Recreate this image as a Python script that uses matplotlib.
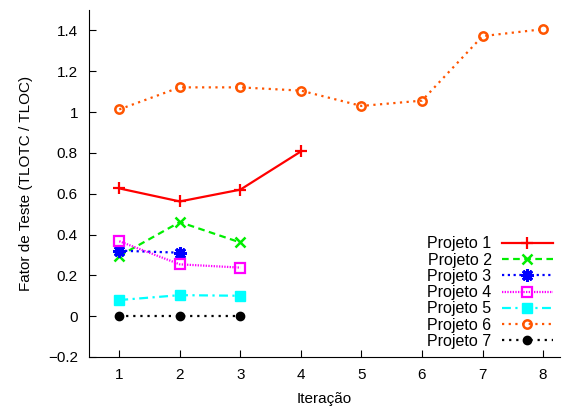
import matplotlib
matplotlib.use("Agg")
import matplotlib.pyplot as plt

plt.rcParams['font.family'] = ['Liberation Sans', 'DejaVu Sans']

iter_p1 = [1, 2, 3, 4]
p1 = [0.626, 0.562, 0.620, 0.807]
iter_p2 = [1, 2, 3]
p2 = [0.295, 0.461, 0.361]
iter_p3 = [1, 2]
p3 = [0.321, 0.311]
iter_p4 = [1, 2, 3]
p4 = [0.367, 0.254, 0.238]
iter_p5 = [1, 2, 3]
p5 = [0.079, 0.103, 0.100]
iter_p6 = [1, 2, 3, 4, 5, 6, 7, 8]
p6 = [1.013, 1.121, 1.121, 1.105, 1.030, 1.056, 1.372, 1.406]
iter_p7 = [1, 2, 3]
p7 = [0.0, 0.0, 0.0]

labels = ["Projeto 1", "Projeto 2", "Projeto 3", "Projeto 4",
          "Projeto 5", "Projeto 6", "Projeto 7"]
xticks = [1, 2, 3, 4, 5, 6, 7, 8]
yticks = [-0.2, 0, 0.2, 0.4, 0.6, 0.8, 1, 1.2, 1.4]
yticklabels = ["\u22120.2", "0", "0.2", "0.4", "0.6", "0.8", "1", "1.2", "1.4"]

fig = plt.figure(figsize=(5.62, 4.08), dpi=100)
ax = fig.add_axes([89/562, 51/408, (560-89)/562, (357-10)/408])

lw = 1.6
ax.plot(iter_p1, p1, color='#ff0000', lw=lw, ls='-', marker='+', ms=8, mew=1.6, label=labels[0])
ax.plot(iter_p2, p2, color='#00ee00', lw=lw, ls=(0, (3, 2)), marker='x', ms=7, mew=1.8, label=labels[1])
ax.plot(iter_p3, p3, color='#0000ff', lw=lw, ls=(0, (1, 1.6)), marker=(8, 2, 0), ms=9, mew=2.2, label=labels[2])
ax.plot(iter_p4, p4, color='#ff00ff', lw=lw, ls=(0, (0.6, 0.6)), marker='s', ms=6.5, mew=1.6, mfc='none', label=labels[3])
ax.plot(iter_p5, p5, color='#00ffff', lw=lw, ls=(0, (4, 2, 1, 2)), marker='s', ms=6.5, mew=1, label=labels[4])
ax.plot(iter_p6, p6, color='#ff5500', lw=lw, ls=(0, (1, 2)), marker='o', ms=6, mew=1.8, mfc='none', label=labels[5])
ax.plot(iter_p7, p7, color='#000000', lw=lw, ls=(0, (1, 2.2)), marker='o', ms=6, label=labels[6])

ax.set_xlim(0.5, 8.28)
ax.set_ylim(-0.2, 1.5)
ax.set_xticks(xticks)
ax.set_yticks(yticks)
ax.set_yticklabels(yticklabels)
ax.tick_params(direction='in', length=5, labelsize=11, pad=8)
for s in ['top', 'right']:
    ax.spines[s].set_visible(False)
ax.set_xlabel("Iteração", fontsize=11, labelpad=7)
ax.set_ylabel("Fator de Teste (TLOTC / TLOC)", fontsize=11, labelpad=11)

leg = ax.legend(loc='lower right', bbox_to_anchor=(553/562, 59/408), bbox_transform=fig.transFigure,
                frameon=False, markerfirst=False, fontsize=11.5, handlelength=3.2,
                handletextpad=0.65, labelspacing=0.08, borderpad=0, borderaxespad=0)
for t in leg.get_texts():
    t.set_ha('right')

fig.savefig("out.png", dpi=100)
